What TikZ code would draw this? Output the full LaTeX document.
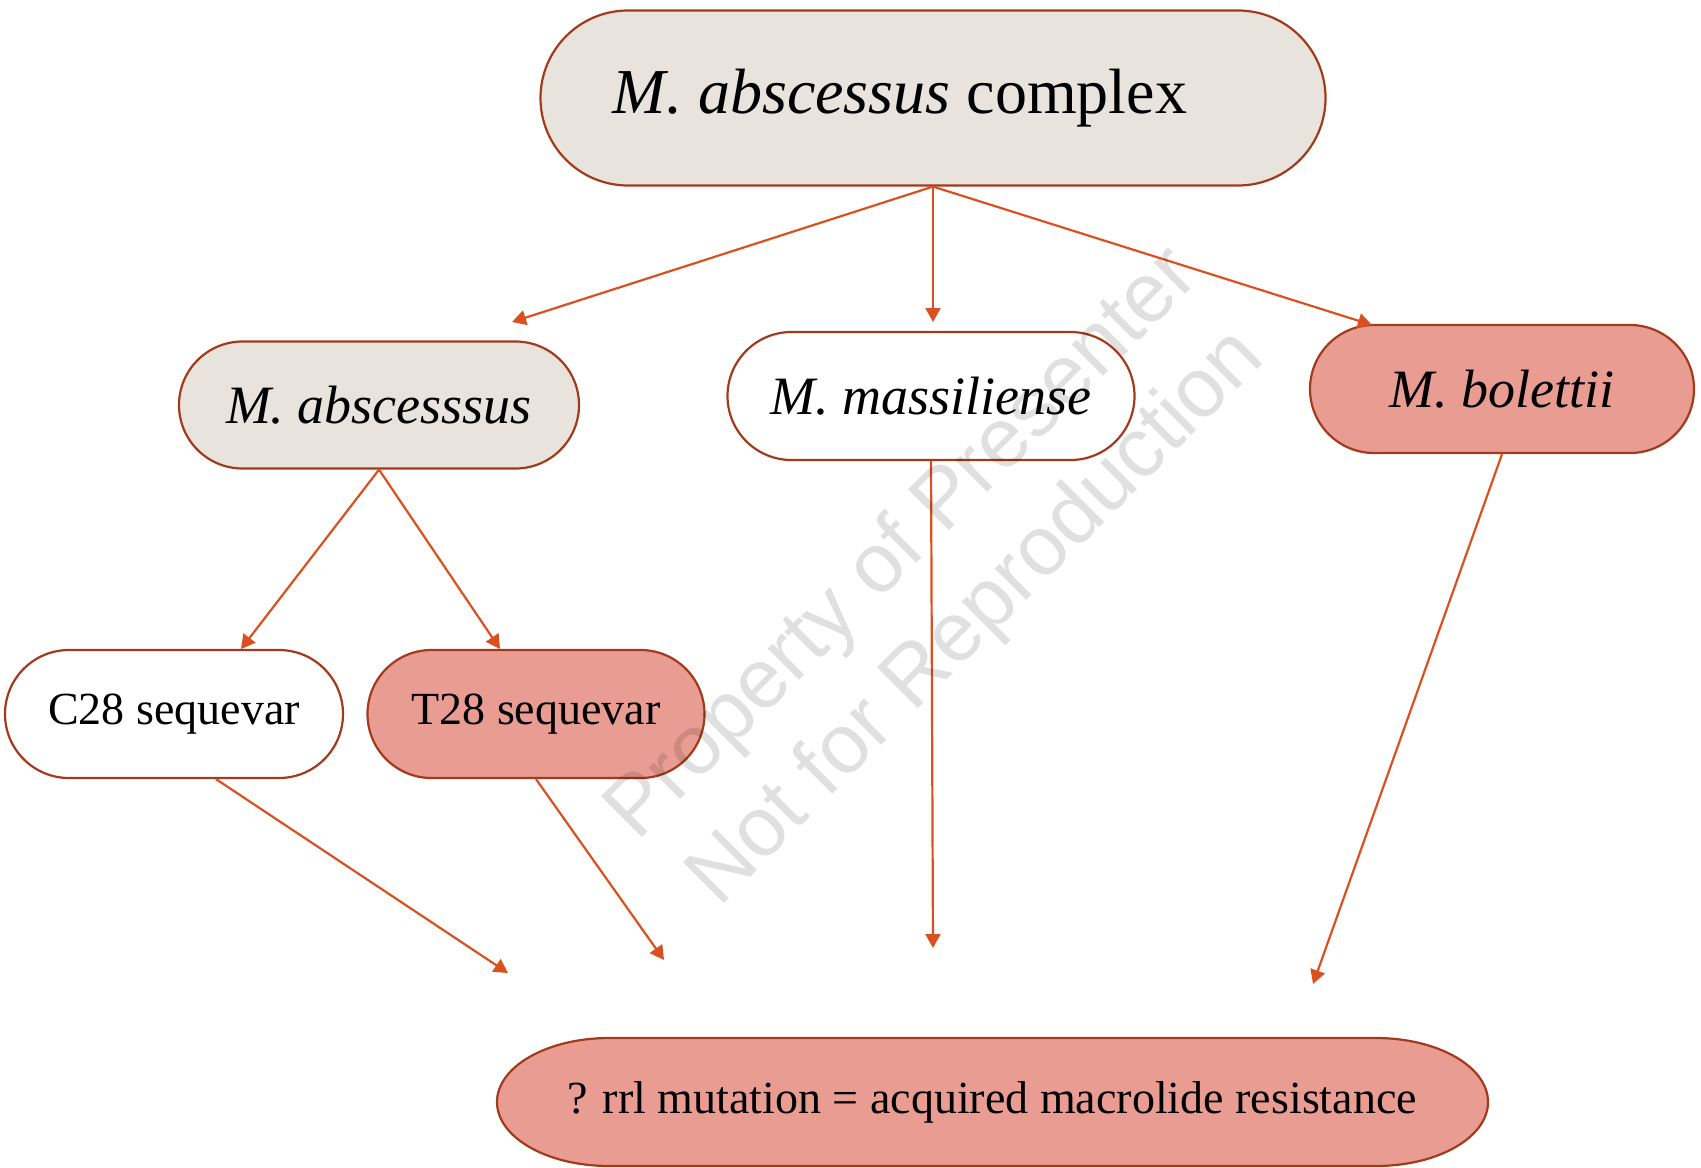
\documentclass[tikz,border=0pt]{standalone}
\usepackage{fontspec}
\setmainfont{Liberation Serif}
\newfontfamily\wmfont{Liberation Sans}
\usepackage{tikz}
\usetikzlibrary{arrows.meta}
\usetikzlibrary{calc}
\usetikzlibrary{shapes.misc,positioning}
\usepackage{color}
\definecolor{edgec}{HTML}{A23A1C}
\definecolor{arrowc}{HTML}{DB5020}
\definecolor{beige}{HTML}{E8E4DD}
\definecolor{salmon}{HTML}{E99C92}

\begin{document}
\begin{tikzpicture}[x=0.5pt, y=-0.5pt,
    sp/.style={rounded rectangle, draw=edgec, line width=1.1pt, inner sep=0pt,
      minimum height=64pt},
    big/.style={font=\fontsize{32}{38}\selectfont},
    mid/.style={font=\fontsize{27}{32}\selectfont},
    small/.style={font=\fontsize{23}{28}\selectfont},
    arr/.style={draw=arrowc, line width=1.1pt, -{Triangle[length=7pt, width=7.5pt]}}]
  \useasboundingbox (0,0) rectangle (1701,1167);
  % species tree
  \node[sp, big, fill=beige, minimum width=392.5pt, minimum height=87.5pt] (MAC)
    at (933,98) {\textit{M. abscessus} complex\hspace*{33pt}};
  \node[sp, mid, fill=beige, minimum width=200pt, minimum height=63.5pt] (Mab)
    at (379,405) {\textit{M. abscesssus}};
  \node[sp, mid, fill=white, minimum width=203.5pt] (Mma) at (931,396)
    {\textit{M. massiliense}};
  \node[sp, mid, fill=salmon, minimum width=192pt] (Mbo) at (1502,389)
    {\textit{M. bolettii}};
  \node[sp, small, fill=white, minimum width=169pt] (C28) at (174,714) {C28 sequevar};
  \node[sp, small, fill=salmon, minimum width=168.5pt] (T28) at (536,714) {T28 sequevar};
  % resistance box, elliptical ends
  \filldraw[draw=edgec, fill=salmon, line width=1.1pt] (609,1038) -- (1376,1038)
    arc[start angle=90, end angle=-90, x radius=56pt, y radius=32pt] -- (609,1166)
    arc[start angle=270, end angle=90, x radius=56pt, y radius=32pt] -- cycle;
  \node[small, inner sep=0pt] (R) at (992,1102)
    {? rrl mutation = acquired macrolide resistance};
  % free arrow ends
  \coordinate (a1) at (512,322); \coordinate (a2) at (933,322);
  \coordinate (a3) at (1372,325);
  \coordinate (b1) at (241,649); \coordinate (b2) at (500,649);
  \coordinate (r1) at (508,973); \coordinate (r2) at (664,960);
  \coordinate (r3) at (933,948); \coordinate (r4) at (1313,984);
  \draw[arr] (MAC.south) -- (a1); \draw[arr] (MAC.south) -- (a2);
  \draw[arr] (MAC.south) -- (a3);
  \draw[arr] (Mab.south) -- (b1); \draw[arr] (Mab.south) -- (b2);
  \draw[arr] ([xshift=21pt]C28.south) -- (r1); \draw[arr] (T28.south) -- (r2);
  \draw[arr] (Mma.south) -- (r3); \draw[arr] (Mbo.south) -- (r4);
  % watermark
  \node[rotate=45, align=center, text=black, text opacity=0.12,
    font=\wmfont\fontsize{42}{52}\selectfont] (wm) at (941,582)
    {Property of Presenter\\Not for Reproduction};
\end{tikzpicture}
\end{document}
